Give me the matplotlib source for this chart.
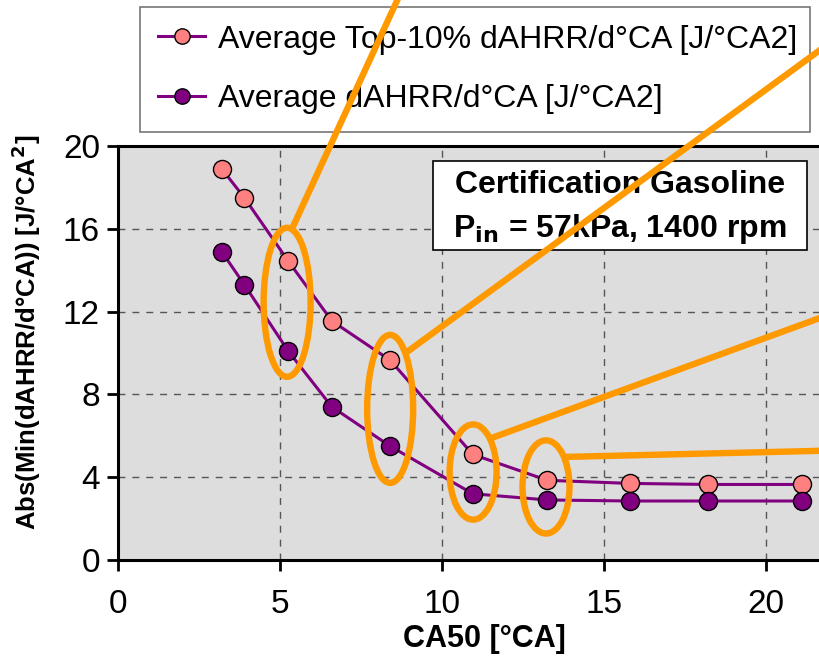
import matplotlib.pyplot as plt
from matplotlib.patches import Ellipse, Rectangle

plt.rcParams['font.family'] = ['Liberation Sans', 'DejaVu Sans']

# data
ca50 = [3.2, 3.9, 5.25, 6.6, 8.4, 10.95, 13.25, 15.8, 18.2, 21.1]
top10 = [18.9, 17.5, 14.45, 11.55, 9.65, 5.1, 3.85, 3.7, 3.65, 3.65]
avg = [14.9, 13.3, 10.1, 7.4, 5.5, 3.2, 2.9, 2.85, 2.85, 2.85]
xticks = [0, 5, 10, 15, 20]
yticks = [0, 4, 8, 12, 16, 20]

# orange call-out rings (x, y, width, height) and leader lines
rings = [(5.22, 12.45, 1.45, 7.2), (8.4, 7.3, 1.42, 7.15),
         (10.96, 4.25, 1.45, 4.6), (13.21, 3.53, 1.45, 4.5)]
leaders = [((5.37, 16.0), (8.9, 28.0)), ((8.92, 10.05), (25.0, 28.45)),
           ((11.54, 5.9), (25.0, 13.6)), ((13.8, 4.98), (25.0, 5.4))]

fig = plt.figure(figsize=(8.2, 6.6), dpi=100)
ax = fig.add_axes([118/820, 100/660, 810/820, 414/660])
ax.set_facecolor('#dddddd')

ax.plot(ca50, top10, color='#800080', lw=2.2, marker='o', ms=13,
        mfc='#ff8080', mec='black', mew=1, zorder=5,
        label='Average Top-10% dAHRR/d°CA [J/°CA2]')
ax.plot(ca50, avg, color='#800080', lw=2.2, marker='o', ms=13,
        mfc='#800080', mec='black', mew=1, zorder=5,
        label='Average dAHRR/d°CA [J/°CA2]')

for x, y, w, h in rings:
    ax.add_patch(Ellipse((x, y), w, h, fill=False, ec='#ff9900', lw=4.6, zorder=6, clip_on=False))
for (x0, y0), (x1, y1) in leaders:
    ax.plot([x0, x1], [y0, y1], color='#ff9900', lw=4.6, zorder=6, clip_on=False)

ax.set_xlim(0, 25)
ax.set_ylim(0, 20)
ax.set_xticks(xticks)
ax.set_yticks(yticks)
ax.tick_params(axis='y', direction='out', length=8, width=2, labelsize=24, pad=5)
ax.tick_params(axis='x', direction='out', length=8, width=2, labelsize=24, pad=13)
ax.grid(True, color='#555555', ls=(0, (5, 5)), lw=1)
ax.set_axisbelow(True)
for s in ['left', 'bottom', 'top']:
    ax.spines[s].set_linewidth(2.2)
ax.spines['right'].set_visible(False)

ax.set_xlabel('CA50 [°CA]', fontsize=22, fontweight='bold')
ax.xaxis.set_label_coords(0.452, -0.155)
ax.set_ylabel('Abs(Min(dAHRR/d°CA)) [J/°CA$^\\mathbf{2}$]', fontsize=18.5, fontweight='bold')
ax.yaxis.set_label_coords(-0.092, 0.55)

# annotation box
ax.add_patch(Rectangle((9.72, 14.98), 11.55, 4.3, fc='white', ec='black', lw=1.2, zorder=4))
ax.text(15.49, 18.12, 'Certification Gasoline', ha='center', va='center',
        fontsize=23, fontweight='bold', zorder=4)
ax.text(15.49, 16.0, 'P$_{\\mathbf{in}}$ = 57kPa, 1400 rpm', ha='center', va='center',
        fontsize=23, fontweight='bold', zorder=4)

leg = fig.legend(loc='upper left', fontsize=23, frameon=True, fancybox=False,
                 mode='expand', borderaxespad=0, labelspacing=0.92,
                 handlelength=1.5, handletextpad=0.4, borderpad=0.55, markerscale=0.85)
leg.set_bbox_to_anchor((140/820, (660 - 130)/660, 670/820, 123/660), transform=fig.transFigure)
leg.get_frame().set_edgecolor('#555555')
leg.get_frame().set_linewidth(1.2)
leg.set_zorder(-1)

fig.savefig('out.png', dpi=100)
